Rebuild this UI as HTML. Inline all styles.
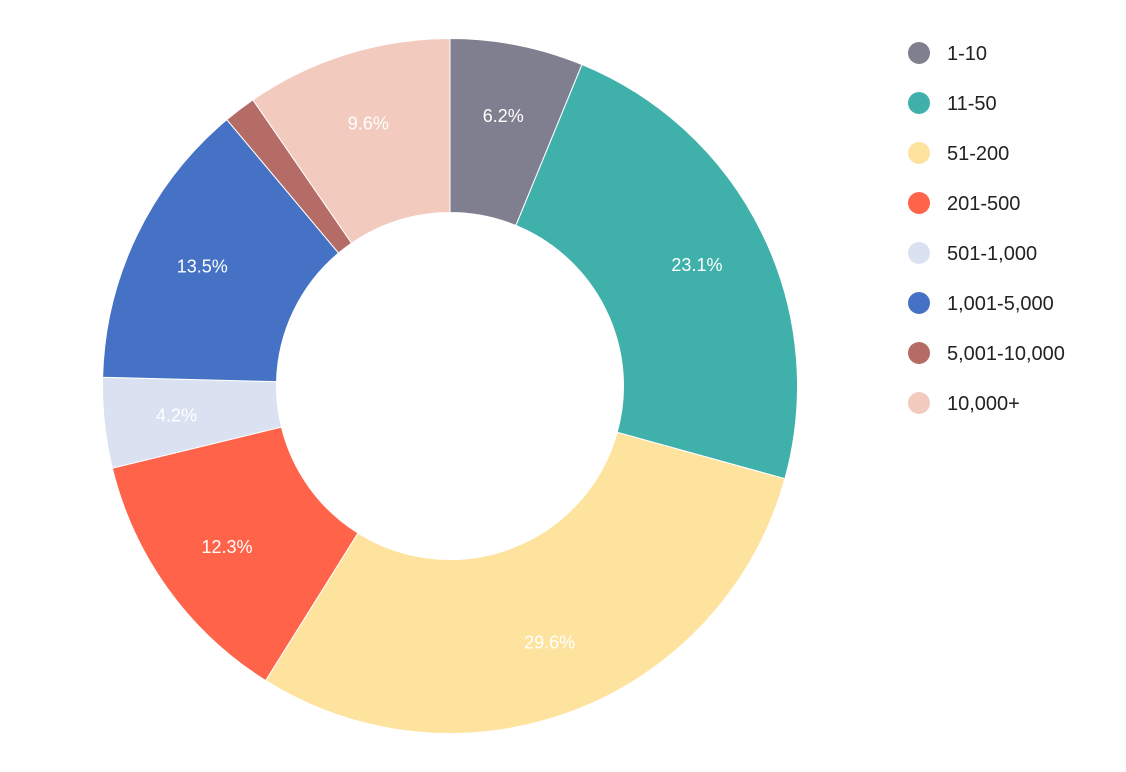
<!DOCTYPE html>
<html><head><meta charset="utf-8"><style>
html,body{margin:0;padding:0;background:#fff;}
svg{display:block;font-family:"Liberation Sans","DejaVu Sans",sans-serif;}
</style></head><body>
<svg id="chart" width="1126" height="772"></svg>
<script>
const categories=["1-10","11-50","51-200","201-500","501-1,000","1,001-5,000","5,001-10,000","10,000+"];
const values=[6.2,23.1,29.6,12.3,4.2,13.5,1.5,9.6];
const colors=["#7f7f8f","#40b0ab","#fee39f","#ff634a","#dae2f2","#4572c4","#b56b66","#f2cbbe"];
const NS="http://www.w3.org/2000/svg";
const svg=document.getElementById("chart");
const cx=450,cy=386,R=347.5,r=173.5,LR=275;
const total=values.reduce((a,b)=>a+b,0);
function pt(rad,f){const a=f*2*Math.PI;return [cx+rad*Math.sin(a),cy-rad*Math.cos(a)];}
let acc=0;
values.forEach((v,i)=>{
  const f0=acc/total,f1=(acc+v)/total;acc+=v;
  const large=(f1-f0)>0.5?1:0;
  const [x0,y0]=pt(R,f0),[x1,y1]=pt(R,f1),[x2,y2]=pt(r,f1),[x3,y3]=pt(r,f0);
  const p=document.createElementNS(NS,"path");
  p.setAttribute("d",`M${x0},${y0}A${R},${R} 0 ${large} 1 ${x1},${y1}L${x2},${y2}A${r},${r} 0 ${large} 0 ${x3},${y3}Z`);
  p.setAttribute("fill",colors[i]);
  p.setAttribute("stroke","#fff");p.setAttribute("stroke-width","1");
  
  
  svg.appendChild(p);
  if(v/total>0.03){
    const [lx,ly]=pt(LR,(f0+f1)/2);
    const t=document.createElementNS(NS,"text");
    t.setAttribute("x",lx);t.setAttribute("y",ly+6);
    t.setAttribute("text-anchor","middle");t.setAttribute("fill","#fff");t.setAttribute("font-size","18");
    t.textContent=v.toFixed(1)+"%";
    
    
    svg.appendChild(t);
  }
});
categories.forEach((c,i)=>{
  const y=53+i*50;
  const g=document.createElementNS(NS,"g");
  
  
  const ci=document.createElementNS(NS,"circle");
  ci.setAttribute("cx",919);ci.setAttribute("cy",y);ci.setAttribute("r",11);ci.setAttribute("fill",colors[i]);
  
  
  const t=document.createElementNS(NS,"text");
  t.setAttribute("x",947);t.setAttribute("y",y+7);t.setAttribute("font-size","20");t.setAttribute("fill","#222");
  t.textContent=c;
  
  
  g.appendChild(ci);g.appendChild(t);svg.appendChild(g);
});
</script>
</body></html>
